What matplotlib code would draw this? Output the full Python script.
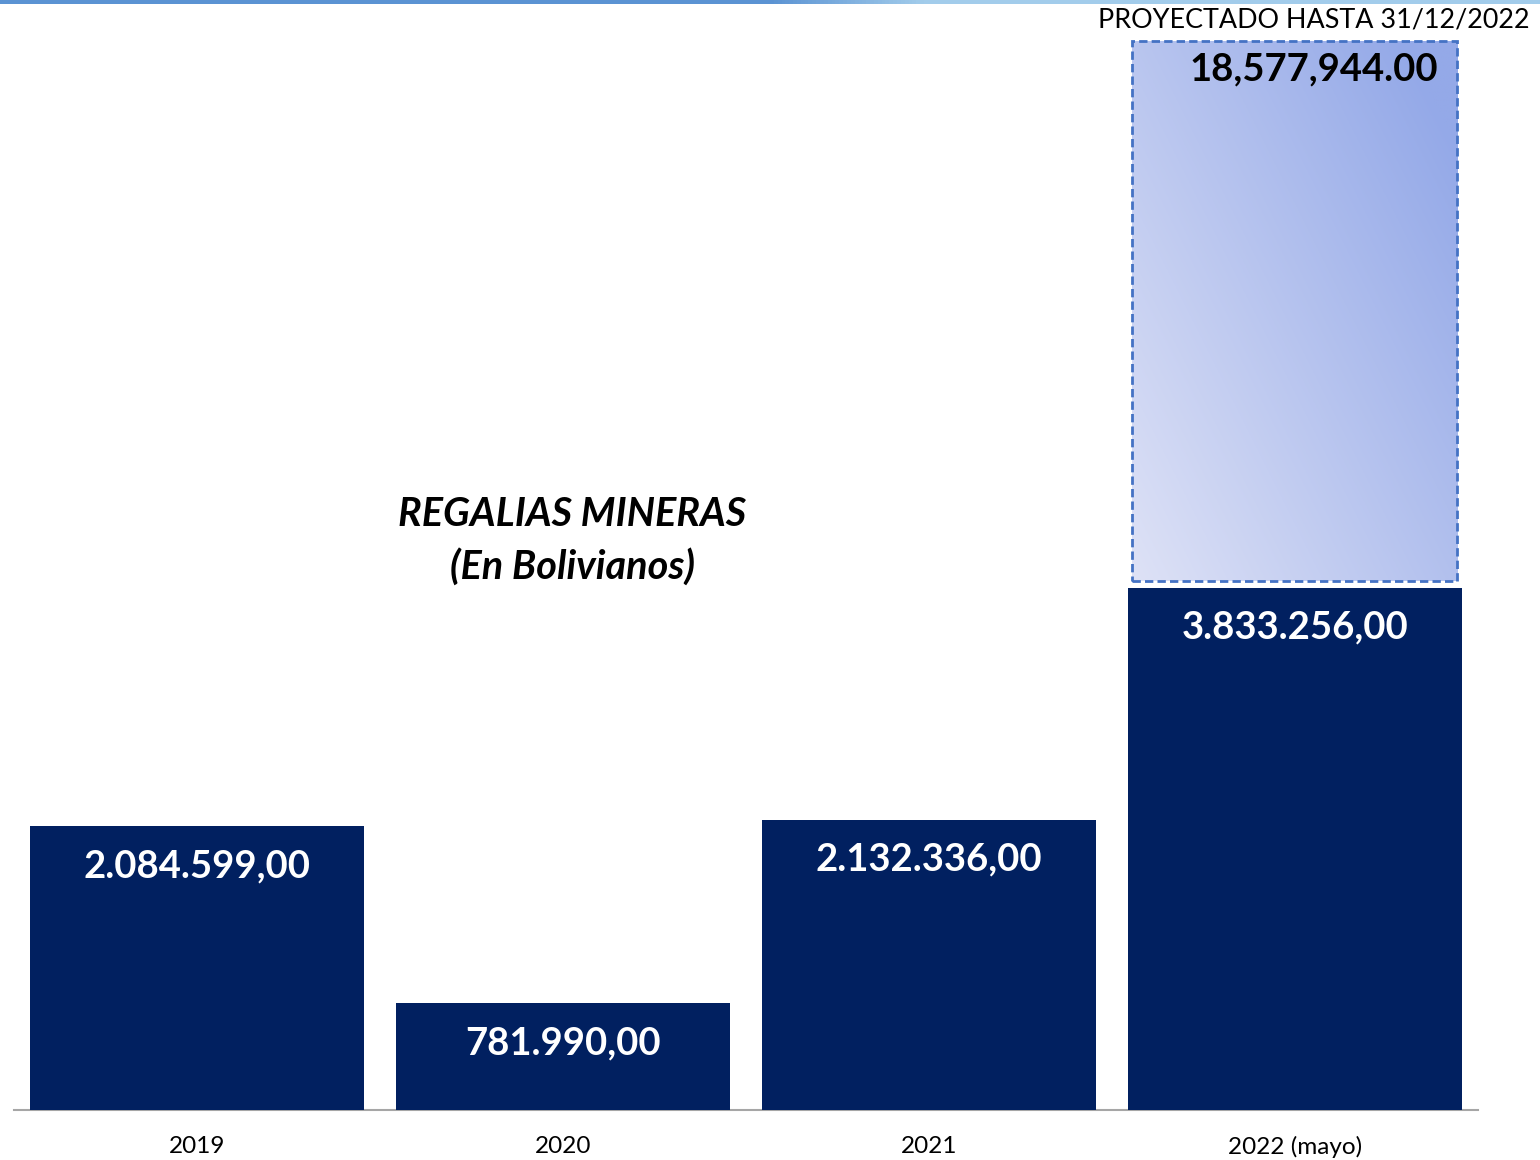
import matplotlib
matplotlib.use("Agg")
import matplotlib.pyplot as plt
import numpy as np
from matplotlib.patches import Rectangle

categories = ["2019", "2020", "2021", "2022 (mayo)"]
values = [2084599.00, 781990.00, 2132336.00, 3833256.00]
value_labels = ["2.084.599,00", "781.990,00", "2.132.336,00", "3.833.256,00"]
projected_label = "18,577,944.00"
projected_title = "PROYECTADO HASTA 31/12/2022"
title_lines = ["REGALIAS MINERAS", "(En Bolivianos)"]

plt.rcParams['font.family'] = ['Lato', 'DejaVu Sans']

fig = plt.figure(figsize=(15.4, 11.6), dpi=100)
ax = fig.add_axes([14/1540, 50/1160, 1464/1540, 1110/1160])

x = np.arange(len(categories))
bars = ax.bar(x, values, width=0.913, color="#012060", zorder=3)
ax.set_xlim(-0.5, len(categories) - 0.5)
ymax = 1110 / 136.2 * 1e6
ax.set_ylim(0, ymax)

for spine in ["top", "right", "left"]:
    ax.spines[spine].set_visible(False)
ax.spines["bottom"].set_color("#a6a6a6")
ax.spines["bottom"].set_linewidth(1.5)
ax.set_yticks([])
ax.set_xticks(x)
ax.set_xticklabels(categories, fontsize=17.5, color="#000000")
ax.tick_params(axis="x", length=0, pad=19)

# value labels inside bars
for xi, v, lab in zip(x, values, value_labels):
    ax.annotate(lab, (xi, v), xytext=(0, -40), textcoords="offset pixels",
                ha="center", va="center", color="white", fontsize=27.5,
                fontweight="bold", zorder=5)

# projected box (annotation)
bx0, bx1 = 3 - 0.445, 3 + 0.443
by0 = values[3] + 0.05e6
by1 = (1110 - 41) / 136.2 * 1e6
rect = Rectangle((bx0, by0), bx1 - bx0, by1 - by0, fill=False,
                 edgecolor="#4472C4", linestyle=(0, (3, 1.5)), linewidth=2, zorder=6)
ax.add_patch(rect)
# gradient fill
n = 200
gx, gy = np.meshgrid(np.linspace(0, 1, n), np.linspace(0, 1, n))
t = np.clip(0.6 * gx + 0.5 * gy, 0, 1)[..., None]
c0 = np.array([0xde, 0xe2, 0xf6]) / 255
c1 = np.array([0x94, 0xa9, 0xe8]) / 255
img = c0 * (1 - t) + c1 * t
im = ax.imshow(img, extent=(bx0, bx1, by0, by1), origin="lower", aspect="auto", zorder=4)
clip = Rectangle((bx0, by0), bx1 - bx0, by1 - by0, transform=ax.transData)
im.set_clip_path(clip)
ax.set_xlim(-0.5, len(categories) - 0.5)
ax.set_ylim(0, ymax)

ax.text(3 + 0.05, (1110 - 69) / 136.2 * 1e6, projected_label, ha="center", va="center",
        fontsize=27.5, fontweight="bold", color="#000000", zorder=7)

fig.text(1530/1540, 1 - 20/1160, projected_title, ha="right", va="center",
         fontsize=19.4, color="#000000")

fig.text(572/1540, 1 - 515/1160, title_lines[0], ha="center", va="center",
         fontsize=28.5, fontweight="bold", style="italic", color="#000000")
fig.text(572/1540, 1 - 567/1160, title_lines[1], ha="center", va="center",
         fontsize=28.5, fontweight="bold", style="italic", color="#000000")

# top decorative strip
strip = fig.add_axes([0, 1 - 4/1160, 1, 4/1160])
sg = np.linspace(0, 1, 400)
scol = np.zeros((1, 400, 3))
dark = np.array([0x5b, 0x93, 0xd3]) / 255
light = np.array([0xa2, 0xcc, 0xeb]) / 255
w = np.clip((sg - 0.5) / 0.1, 0, 1)[:, None]
scol[0] = dark * (1 - w) + light * w
strip.imshow(scol, aspect="auto", extent=(0, 1, 0, 1))
strip.axis("off")

fig.savefig("out.png", dpi=100, facecolor="white")
